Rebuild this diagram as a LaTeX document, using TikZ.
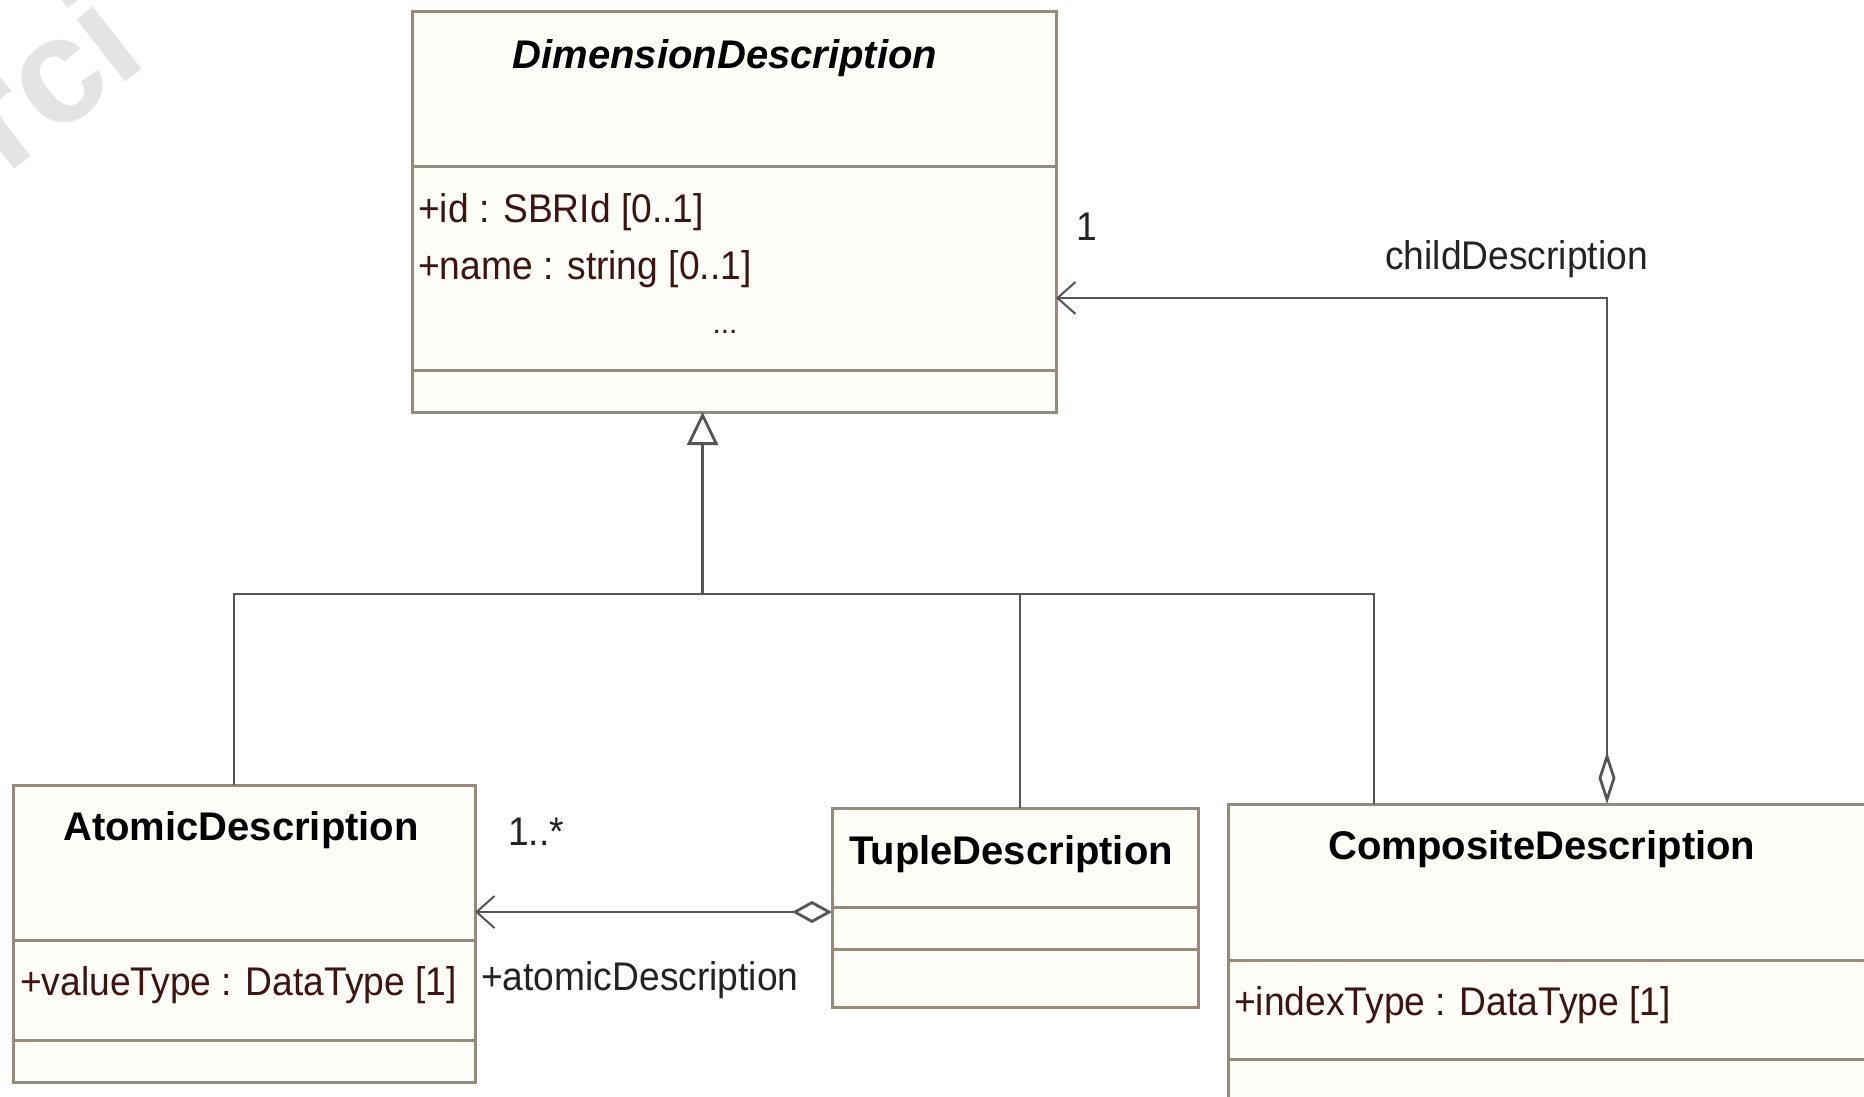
\documentclass[tikz,border=0pt]{standalone}
\usepackage{fontspec}
\setmainfont{Liberation Sans}
\newfontfamily\attrf[FakeStretch=0.93]{Liberation Sans}
\usetikzlibrary{arrows.meta,calc}
\definecolor{boxborder}{RGB}{150,138,125}
\definecolor{boxfill}{RGB}{255,253,247}
\definecolor{conncol}{RGB}{85,85,85}
\definecolor{attrcol}{RGB}{60,20,20}
\definecolor{labcol}{RGB}{35,35,35}
\definecolor{wmark}{RGB}{228,228,228}
\begin{document}
\begin{tikzpicture}[x=1pt,y=-1pt,
  umlbox/.style={draw=boxborder,fill=boxfill,line width=3pt,rectangle,inner sep=0pt,outer sep=0pt,anchor=north west},
  sepline/.style={draw=boxborder,line width=3pt},
  conn/.style={draw=conncol,line width=2.8pt},
  title/.style={font=\fontsize{40}{48}\selectfont\bfseries,anchor=base,text=black,inner sep=0pt},
  attr/.style={font=\attrf\fontsize{40}{48}\selectfont,anchor=base west,text=attrcol,inner sep=0pt},
  lab/.style={font=\attrf\fontsize{40}{48}\selectfont,anchor=base west,text=labcol,inner sep=0pt},
  barb/.tip={Straight Barb[length=18pt,width=32pt,line width=2pt]}
]
\useasboundingbox (0,0) rectangle (1864,1096);
\clip (0,0) rectangle (1864,1096);
\fill[white] (0,0) rectangle (1864,1096);

% watermark fragment
\node[font=\fontsize{150}{160}\selectfont\bfseries, text=wmark, rotate=38, anchor=base west, inner sep=0pt] (wm) at (6,176) {rci};

% DimensionDescription
\node[umlbox, minimum width=644pt, minimum height=401pt] (dd) at (412,11) {};
\draw[sepline] ($(dd.north west)+(0,155)$) -- ($(dd.north east)+(0,155)$);
\draw[sepline] ($(dd.north west)+(0,359)$) -- ($(dd.north east)+(0,359)$);
\node[title, font=\fontsize{40}{48}\selectfont\bfseries\itshape] (ddt) at (725,68) {DimensionDescription};
\node[attr] (dda1) at (418,222) {+id : SBRId [0..1]};
\node[attr] (dda2) at (418,279) {+name : string [0..1]};
\node[attr, anchor=base, font=\fontsize{30}{36}\selectfont] (dda3) at (725,333) {...};

% AtomicDescription
\node[umlbox, minimum width=462pt, minimum height=297pt] (at) at (13,785) {};
\draw[sepline] ($(at.north west)+(0,155)$) -- ($(at.north east)+(0,155)$);
\draw[sepline] ($(at.north west)+(0,255)$) -- ($(at.north east)+(0,255)$);
\node[title] (att) at (241,840) {AtomicDescription};
\node[attr] (ata1) at (20,995) {+valueType : DataType [1]};

% TupleDescription
\node[umlbox, minimum width=366pt, minimum height=199pt] (tu) at (832,808) {};
\draw[sepline] ($(tu.north west)+(0,99)$) -- ($(tu.north east)+(0,99)$);
\draw[sepline] ($(tu.north west)+(0,141)$) -- ($(tu.north east)+(0,141)$);
\node[title] (tut) at (1011,864) {TupleDescription};

% CompositeDescription
\node[umlbox, minimum width=660pt, minimum height=320pt] (co) at (1228,804) {};
\draw[sepline] ($(co.north west)+(0,156)$) -- ($(co.north east)+(0,156)$);
\draw[sepline] ($(co.north west)+(0,255)$) -- ($(co.north east)+(0,255)$);
\node[title] (cot) at (1542,859) {CompositeDescription};
\node[attr] (coa1) at (1234,1015) {+indexType : DataType [1]};

% generalization tree
\coordinate (j1) at (234,594);
\coordinate (jm) at (702.6,594);
\coordinate (j2) at (1020,594);
\coordinate (j4) at (1374,594);
\draw[conn] ($(at.north west)+(221,0)$) -- (j1) -- (j4) -- ($(co.north west)+(146,0)$);
\draw[conn] (j2) -- ($(tu.north west)+(188,0)$);
\draw[conn, -{Triangle[open,length=33pt,width=31pt,fill=white]}] (jm) -- ($(dd.south west)+(290.6,0)$);

% childDescription association
\draw[conn, {Diamond[open,length=52pt,width=17pt,fill=white]}-barb] ($(co.north west)+(379,0)$) |- ($(dd.north east)+(0,287)$);
\node[lab] (l1) at (1076,240) {1};
\node[lab] (lcd) at (1385,269) {childDescription};

% atomicDescription association
\draw[conn, {Diamond[open,length=40pt,width=22pt,fill=white]}-barb] ($(tu.north west)+(0,104)$) -- ($(at.north east)+(0,127)$);
\node[lab] (lm) at (508,845) {1..*};
\node[lab] (lad) at (481,990) {+atomicDescription};
\end{tikzpicture}
\end{document}
